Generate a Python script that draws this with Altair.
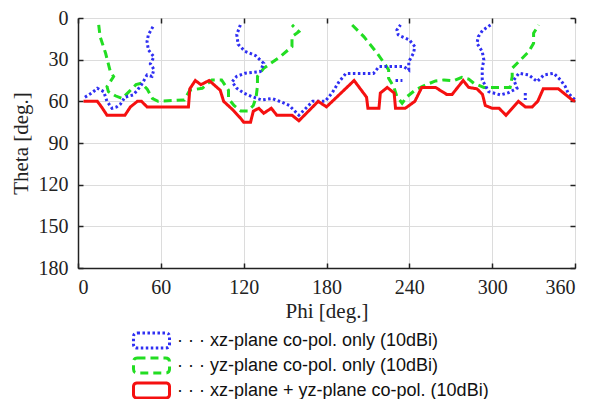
import altair as alt
import pandas as pd

# ---------------- data ----------------
blue_a_phi = [5, 10, 14, 18.6, 21, 24.6, 28, 30.7, 34, 40, 43, 46, 50, 53.6, 55, 52.4, 55, 51, 50, 51, 55]
blue_a_theta = [57, 54, 50.6, 53, 60, 65, 64, 62, 57, 55.4, 52, 48, 41, 42, 37, 33, 28, 23, 17, 12, 5]

blue_b_phi = [117.6, 115, 116, 121, 128.5, 134.5, 132, 121, 115, 111.6, 115, 120, 126, 133, 140.6, 146.6,
              153, 160, 166, 170, 179, 184, 189, 194, 214, 218, 236, 239.6, 239.6, 243, 244, 240, 232, 231, 233.6]
blue_b_theta = [5, 12, 19, 24, 27, 32.6, 38.6, 39.8, 42, 46, 50.6, 54, 56.6, 59, 58, 60.2,
                63, 70, 64, 60, 60, 54, 46, 40, 40, 35, 35, 37.4, 31.4, 25.4, 20.6, 15.8, 12.2, 8.6, 5]

blue_c_phi = [298.8, 293, 290, 289, 292.8, 294, 292.8, 292.8, 297.5, 306, 312, 318, 315.7, 319.3, 326.5,
              332.6, 337.4, 344.6, 349.5, 353, 355, 360]
blue_c_theta = [5, 9, 13.4, 18.2, 24.2, 30.2, 36.2, 44.6, 53, 55.4, 53.7, 50.6, 44.6, 39.8, 41,
                45.8, 41, 39.8, 44.6, 49.4, 54, 59]

blue_d_phi = [230, 235]
blue_d_theta = [45, 45]
blue_e_phi = [324, 324]
blue_e_theta = [54, 59]

green_a_phi = [15, 16, 20, 23.4, 25.8, 21, 22, 27, 32, 37, 42, 46, 50, 54, 58, 77, 81, 90, 97, 104, 109, 109,
               113, 118, 123, 127, 129, 130, 130, 134.5, 146.6, 155, 155, 160, 155]
green_a_theta = [5, 13.4, 25.4, 38.6, 42.2, 49.4, 53, 56, 58, 53, 48, 47, 51, 58, 60, 59, 52, 50.6, 44.6, 44.6, 52, 58,
                 63, 67, 67, 63, 57, 49, 42, 36.2, 27.8, 20.6, 13.4, 9.8, 5]

green_b_phi = [198.6, 207, 216.7, 222.7, 225, 225, 228.7, 231, 234.8, 238.4, 244.4, 251.8, 259, 265, 272, 278,
               283, 286.7, 294, 313, 314.5, 314.5, 320.5, 326.5, 330, 330, 333.7]
green_b_theta = [5, 13.4, 25.4, 33.8, 37.4, 43.4, 49.4, 56.6, 61.4, 56.6, 51.8, 48.2, 45.3, 44.6, 45.3, 42.7,
                 44, 47, 50, 50, 42.2, 36.2, 30.2, 24.2, 18.2, 11, 5]

red_phi = [4, 14, 17, 21, 34, 38, 43, 46, 50, 80, 81, 85, 89, 95, 103, 105.5, 112, 117.6, 120, 125, 127, 131,
           134.5, 140, 144, 155, 160, 174, 180, 200, 209, 210, 218, 219, 224, 229, 230, 237, 244, 249, 259, 267,
           271, 279, 283, 289, 293, 295, 300, 305, 310, 319, 324, 329, 333, 337, 348, 358, 360]
red_theta = [60, 60, 64, 70, 70, 64, 60, 60, 64, 64, 51, 45, 48, 45, 52, 60, 66, 72, 75, 75, 67, 65,
             68.6, 65, 70, 70, 74, 60, 64, 45, 57, 65, 65, 54, 50, 54, 65, 65, 60, 50, 50, 55,
             55, 45, 50, 51, 55, 63, 65, 65, 70, 60, 64, 64, 60, 51, 51, 59, 60]

S_BLUE = "xz-plane co-pol. only (10dBi)"
S_GREEN = "yz-plane co-pol. only (10dBi)"
S_RED = "xz-plane + yz-plane co-pol. (10dBi)"
series_names = [S_BLUE, S_GREEN, S_RED]
series_colors = ["#2f2ff2", "#22dd22", "#f51010"]

x_ticks = [0, 60, 120, 180, 240, 300, 360]
y_ticks = [0, 30, 60, 90, 120, 150, 180]

segments = [
    (S_BLUE, "ba", blue_a_phi, blue_a_theta),
    (S_BLUE, "bb", blue_b_phi, blue_b_theta),
    (S_BLUE, "bc", blue_c_phi, blue_c_theta),
    (S_BLUE, "bd", blue_d_phi, blue_d_theta),
    (S_BLUE, "be", blue_e_phi, blue_e_theta),
    (S_GREEN, "ga", green_a_phi, green_a_theta),
    (S_GREEN, "gb", green_b_phi, green_b_theta),
    (S_RED, "ra", red_phi, red_theta),
]
rows = []
for s, seg, ph, th in segments:
    for i, (p, t) in enumerate(zip(ph, th)):
        rows.append({"series": s, "seg": seg, "i": i, "phi": p, "theta": t})
df = pd.DataFrame(rows)

W, H = 497, 250
SERIF = "Liberation Serif"

xs = alt.Scale(domain=[0, 360], nice=False, zero=False)
ys = alt.Scale(domain=[0, 180], reverse=True, nice=False, zero=False)

# rounded-rectangle legend symbol
rounded = ("M -1.62 -0.87 L 1.62 -0.87 Q 2.08 -0.87 2.08 -0.41 L 2.08 0.41 Q 2.08 0.87 1.62 0.87 "
           "L -1.62 0.87 Q -2.08 0.87 -2.08 0.41 L -2.08 -0.41 Q -2.08 -0.87 -1.62 -0.87 Z")

legend = alt.Legend(
    title=None, orient="none", legendX=63, legendY=312,
    symbolType=rounded, symbolSize=300, symbolFillColor="transparent",
    labelExpr="'\u00b7 \u00b7 \u00b7  ' + datum.label",
    labelFont="Liberation Sans", labelFontSize=18, labelColor="#111", labelLimit=0,
    rowPadding=-7, labelOffset=15,
)

color_enc = alt.Color("series:N", scale=alt.Scale(domain=series_names, range=series_colors), legend=legend)
dash_enc = alt.StrokeDash("series:N", scale=alt.Scale(domain=series_names, range=[[2.5, 2.5], [8, 5], [1, 0]]), legend=legend)
width_enc = alt.StrokeWidth("series:N", scale=alt.Scale(domain=series_names, range=[3, 3, 5]), legend=legend)

main_x_axis = alt.Axis(values=x_ticks, title="Phi [deg.]", labelFont=SERIF, labelFontSize=20, labelColor="#222",
                       titleFont=SERIF, titleFontSize=21, titleFontWeight="normal", titleColor="#222",
                       labelPadding=9, titlePadding=3, tickSize=0, grid=True, gridColor="#dcdcdc",
                       domainColor="#222", domainWidth=1.5)
main_y_axis = alt.Axis(values=y_ticks, title="Theta [deg.]", labelFont=SERIF, labelFontSize=20, labelColor="#222",
                       titleFont=SERIF, titleFontSize=21, titleFontWeight="normal", titleColor="#222",
                       labelPadding=10, titlePadding=7, tickSize=0, grid=True, gridColor="#dcdcdc",
                       domainColor="#222", domainWidth=1.5)


def lines(series, x_axis, y_axis):
    return alt.Chart(df).transform_filter(alt.datum.series == series).mark_line(strokeCap="butt").encode(
        x=alt.X("phi:Q", scale=xs, axis=x_axis),
        y=alt.Y("theta:Q", scale=ys, axis=y_axis),
        color=color_enc, strokeDash=dash_enc, strokeWidth=width_enc,
        detail="seg:N", order="i:Q",
    )


green = lines(S_GREEN, main_x_axis, main_y_axis)
blue = lines(S_BLUE, None, None)
red = lines(S_RED, None, None)


def tick_axis(orient, offset):
    return alt.Axis(orient=orient, offset=offset, values=x_ticks if orient in ("top", "bottom") else y_ticks,
                    labels=False, title=None, grid=False, domain=False, tickSize=5, tickColor="#222",
                    tickWidth=1.5)


ticks_a = alt.Chart(df).mark_point(opacity=0).encode(
    x=alt.X("phi:Q", scale=xs, axis=tick_axis("top", -H)),
    y=alt.Y("theta:Q", scale=ys, axis=tick_axis("right", -W)),
)
ticks_b = alt.Chart(df).mark_point(opacity=0).encode(
    x=alt.X("phi:Q", scale=xs, axis=tick_axis("bottom", -H)),
    y=alt.Y("theta:Q", scale=ys, axis=tick_axis("left", -W)),
)

chart = alt.layer(green, blue, red, ticks_a, ticks_b).resolve_axis(
    x="independent", y="independent"
).properties(
    width=W, height=H,
    autosize=alt.AutoSizeParams(type="none"),
    padding={"left": 78, "top": 18, "right": 25, "bottom": 131},
).configure_view(stroke="#222", strokeWidth=1.5).configure(background="white")

chart.save("out.html", embed_options={"renderer": "svg", "actions": False})
